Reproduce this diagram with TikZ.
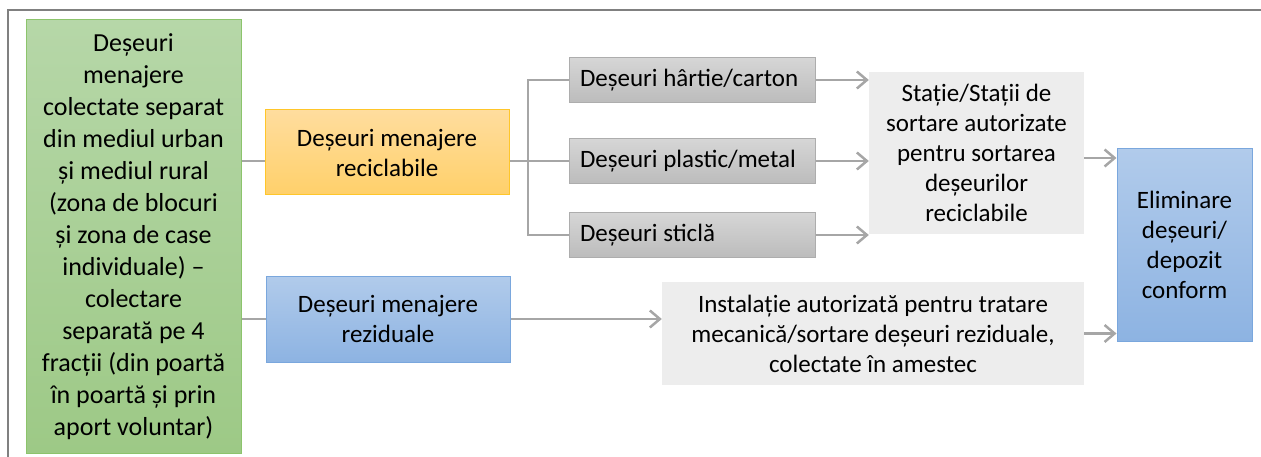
\documentclass[tikz,border=0pt]{standalone}
\usepackage{fontspec}
\setmainfont{Carlito}
\usetikzlibrary{arrows.meta}

\definecolor{greentop}{RGB}{182,215,168}
\definecolor{greenbot}{RGB}{157,201,134}
\definecolor{greenline}{RGB}{140,196,108}
\definecolor{yellowtop}{RGB}{255,221,158}
\definecolor{yellowbot}{RGB}{255,208,106}
\definecolor{yellowline}{RGB}{255,198,42}
\definecolor{bluetop}{RGB}{177,203,235}
\definecolor{bluebot}{RGB}{141,179,226}
\definecolor{blueline}{RGB}{122,167,221}
\definecolor{graytop}{RGB}{214,214,214}
\definecolor{graybot}{RGB}{188,188,188}
\definecolor{grayline}{RGB}{173,173,173}
\definecolor{lightbox}{RGB}{237,237,237}
\definecolor{linkgray}{RGB}{166,166,166}
\definecolor{framegray}{RGB}{128,128,128}

\begin{document}
\begin{tikzpicture}[x=1pt, y=-1pt, >={Straight Barb[length=10pt,width=17pt]},
  every box/.style={rectangle, align=center, inner sep=0pt, text=black,
    font=\fontsize{25}{30}\selectfont},
  green box/.style={every box, draw=greenline, line width=1pt,
    top color=greentop, bottom color=greenbot},
  yellow box/.style={every box, draw=yellowline, line width=1pt,
    top color=yellowtop, bottom color=yellowbot},
  blue box/.style={every box, draw=blueline, line width=1pt,
    top color=bluetop, bottom color=bluebot},
  gray box/.style={every box, draw=grayline, line width=1pt,
    top color=graytop, bottom color=graybot,
    align=flush left, text width=224, minimum width=246, minimum height=45},
  light box/.style={every box, fill=lightbox},
  link/.style={draw=linkgray, line width=2.5pt},
  arrow/.style={link, ->}]

\useasboundingbox (0,0) rectangle (1261,457);
\draw [framegray, line width=2pt] (7.5,457) -- (7.5,10) -- (1261,10);

% collection
\node [green box, minimum width=215, minimum height=433,
  font=\fontsize{26}{32}\selectfont] (waste) at (133.5,236.5)
  {Deșeuri\\menajere\\colectate separat\\din mediul urban\\și mediul rural\\(zona de blocuri\\și zona de case\\individuale) –\\colectare\\separată pe 4\\fracții (din poartă\\în poartă și prin\\aport voluntar)};

\node [yellow box, minimum width=244, minimum height=85] (recy) at (387,152.5)
  {Deșeuri menajere\\reciclabile};
\node [blue box, minimum width=244, minimum height=86] (resid) at (388,319)
  {Deșeuri menajere\\reziduale};

% fractions
\foreach \n/\t/\y in {paper/{Deșeuri hârtie/carton}/80,
                      plastic/{Deșeuri plastic/metal}/161,
                      sticla/{Deșeuri sticlă}/235}
  \node [gray box] (\n) at (692,\y) {\t};

% treatment
\node [light box, minimum width=215, minimum height=162] (statie) at (976.5,153)
  {Stație/Stații de\\sortare autorizate\\pentru sortarea\\deșeurilor\\reciclabile};
\node [light box, minimum width=422, minimum height=103] (install) at (873,333.5)
  {Instalație autorizată pentru tratare\\mecanică/sortare deșeuri reziduale,\\colectate în amestec};
\node [blue box, minimum width=135, minimum height=192] (elim) at (1184.5,245)
  {Eliminare\\deșeuri/\\depozit\\conform};

\coordinate (fork) at (528,161);

\draw [link] (waste.east |- fork) -- (recy.west |- fork);
\draw [link] (waste.east |- resid.west) -- (resid.west);
\draw [link] (recy.east |- fork) -- (fork);
\draw [link] (paper.west) -| (fork) |- (sticla.west);
\draw [link] (fork) -- (plastic.west);

\foreach \n in {paper,plastic,sticla}
  \draw [arrow] (\n.east) -- (\n.east -| statie.west);

\draw [arrow] (resid.east) -- (resid.east -| install.west);
\draw [arrow] ([yshift=-5pt]statie.east) -- ([yshift=-5pt]statie.east -| elim.west);
\draw [arrow] (install.east) -- (install.east -| elim.west);

\end{tikzpicture}
\end{document}
